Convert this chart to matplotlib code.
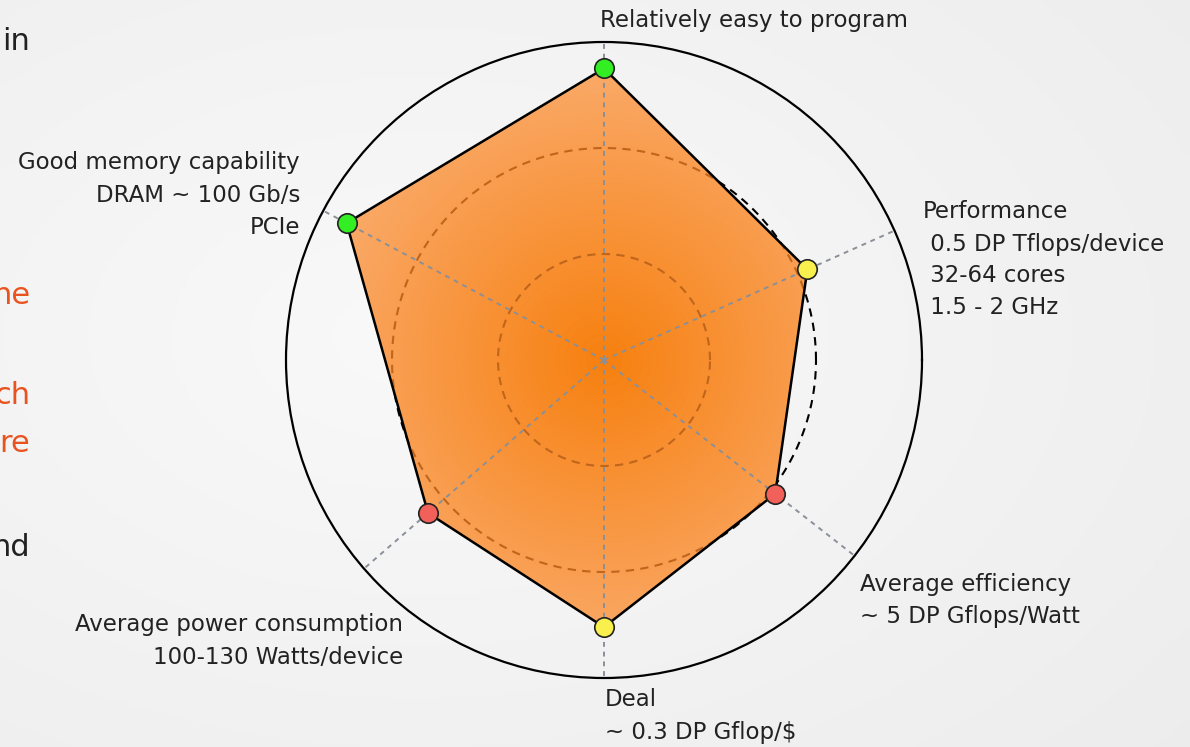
import numpy as np
import matplotlib.pyplot as plt
from matplotlib.colors import LinearSegmentedColormap

# axis labels, angles (deg) and scores
labels = ["Relatively easy to program",
          "Performance\n 0.5 DP Tflops/device\n 32-64 cores\n 1.5 - 2 GHz",
          "Average efficiency\n~ 5 DP Gflops/Watt",
          "Deal\n~ 0.3 DP Gflop/\\$",
          "Average power consumption\n100-130 Watts/device",
          "Good memory capability\nDRAM ~ 100 Gb/s\nPCIe"]
angles_deg = [90, 24, -38, -90, 221, 152]
values = [2.75, 2.1, 2.05, 2.52, 2.2, 2.75]
dot_colors = ["#33ee22", "#f9f04e", "#f2605a", "#f9f04e", "#f2605a", "#33ee22"]
r_max = 3
rings = [1, 2]

# cut-off words of the slide on the left
side_words = ["in", "ne", "ch", "re", "nd"]
side_colors = ["#222222", "#e8531f", "#e8531f", "#e8531f", "#222222"]

W, H = 1190, 747
fig = plt.figure(figsize=(W / 100, H / 100), dpi=100, facecolor="#f3f3f3")

# soft background gradient
bg = fig.add_axes([0, 0, 1, 1])
yy, xx = np.mgrid[0:1:200j, 0:1:300j]
g = np.sqrt((xx - 0.35) ** 2 + (yy - 0.45) ** 2)
bg.imshow(g, cmap=LinearSegmentedColormap.from_list("bg", ["#f9f9f9", "#ececec"]),
          extent=[0, 1, 0, 1], aspect="auto", vmin=0, vmax=0.9)
bg.axis("off")

cx, cy, R = 604, 360, 318
ax = fig.add_axes([(cx - R) / W, (H - cy - R) / H, 2 * R / W, 2 * R / H], projection="polar")
ax.set_facecolor("none")
ax.set_ylim(0, r_max)
ax.set_xticks([])
ax.set_yticks([])
ax.grid(False)
ax.spines["polar"].set_linewidth(1.6)
ax.spines["polar"].set_color("black")

th = np.deg2rad(angles_deg)
th_closed = np.append(th, th[0])
v_closed = np.append(values, values[0])

circ = np.linspace(0, 2 * np.pi, 400)
# dashed rings, black outside the fill
for r in rings:
    ax.plot(circ, np.full_like(circ, r), color="black", lw=1.5, ls=(0, (4, 3)), zorder=1)

# filled polygon with radial gradient
poly = ax.fill(th_closed, v_closed, facecolor="none", edgecolor="none", zorder=2)[0]
tg, rg = np.meshgrid(np.linspace(0, 2 * np.pi, 361), np.linspace(0, r_max, 120))
cmap = LinearSegmentedColormap.from_list("fillgrad", ["#f7800f", "#f89640", "#faad70"])
mesh = ax.pcolormesh(tg, rg, rg, cmap=cmap, shading="gouraud", zorder=2,
                     vmin=0, vmax=r_max, antialiased=False)
mesh.set_clip_path(poly)

# same rings seen through the fill
for r in rings:
    ring = ax.plot(circ, np.full_like(circ, r), color="#c0651c", lw=1.5,
                   ls=(0, (4, 3)), zorder=2.5)[0]
    ring.set_clip_path(poly)

# spokes
for t in th:
    ax.plot([t, t], [0, r_max], color="#8a8f98", lw=1.4, ls=(0, (2.5, 2.5)), zorder=3)

ax.plot(th_closed, v_closed, color="black", lw=1.8, zorder=4)
for t, v, c in zip(th, values, dot_colors):
    ax.plot(t, v, "o", ms=14, mfc=c, mec="#222222", mew=1.2, zorder=5)

# labels
fs = 16.5
lab_pos = [(600, 20, "left"), (923, 260, "left"), (860, 600, "left"),
           (605, 716, "left"), (403, 641, "right"), (300, 195, "right")]
for text, (x, y, ha) in zip(labels, lab_pos):
    fig.text(x / W, 1 - y / H, text, ha=ha, va="center", fontsize=fs,
             color="#222222", linespacing=1.5, multialignment=ha)

side_y = [42, 295, 395, 444, 548]
for w, c, y in zip(side_words, side_colors, side_y):
    fig.text(30 / W, 1 - y / H, w, ha="right", va="center", fontsize=22, color=c)

fig.savefig("out.png", dpi=100, facecolor=fig.get_facecolor())
